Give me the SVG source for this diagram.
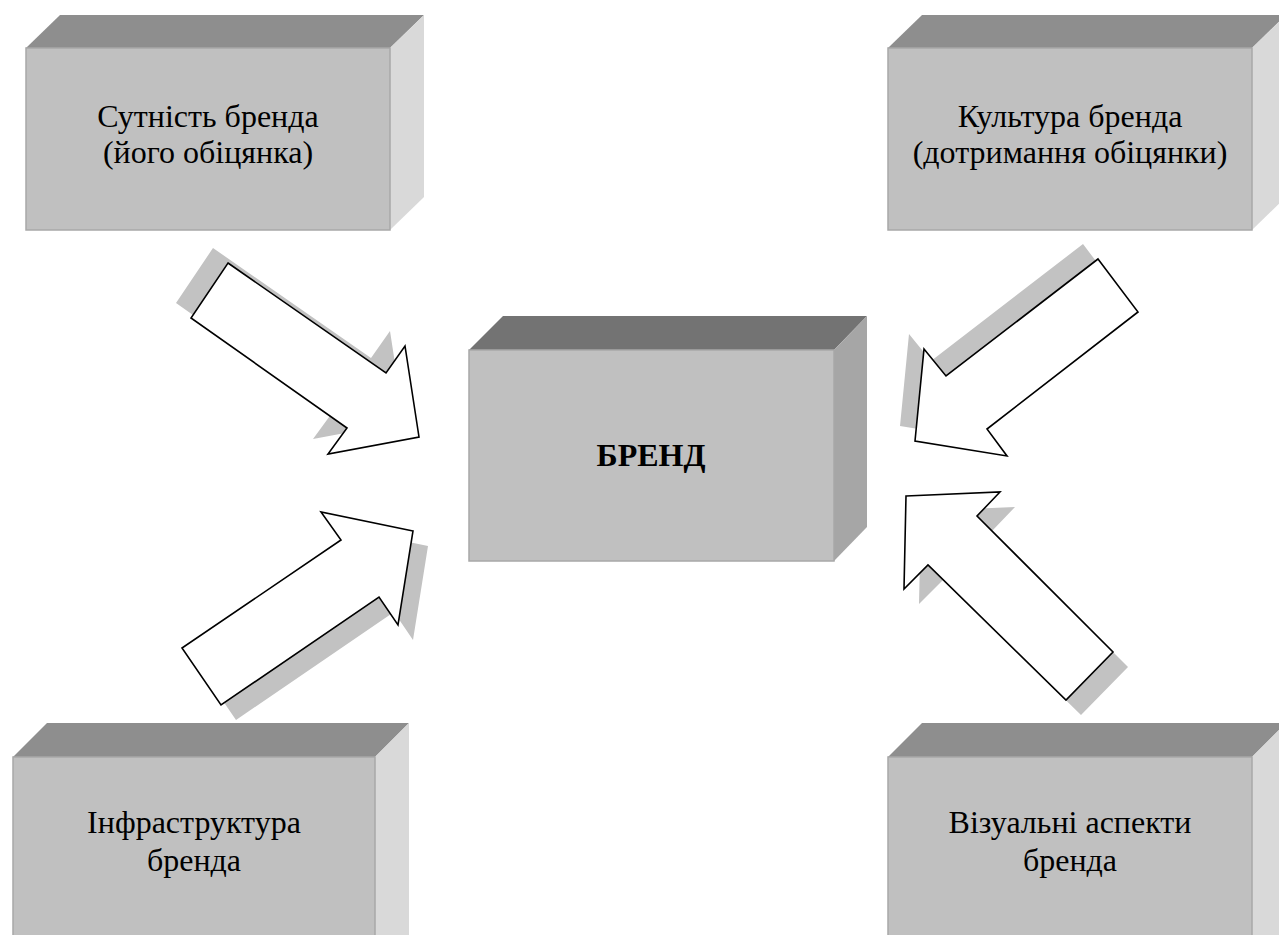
<svg xmlns="http://www.w3.org/2000/svg" width="1279" height="935" viewBox="0 0 1279 935">
<style>
.front{fill:#c0c0c0;stroke:#a8a8a8;stroke-width:1.5}
.top{fill:#8e8e8e}
.side{fill:#d9d9d9}
.ctop{fill:#737373}
.cside{fill:#a6a6a6}
.lbl{font-family:'Liberation Serif','DejaVu Serif',serif;font-size:32px;fill:#000;text-anchor:middle}
.bold{font-weight:bold}
.arrow{fill:#fff;stroke:#000;stroke-width:1.6;stroke-linejoin:miter}
.shadow{fill:#c2c2c2}
</style>
<rect width="1279" height="935" fill="#fff"/>
<g id="connectors">
  <g id="arrow-tl">
    <polygon class="shadow" transform="translate(-15,-15)" points="228,263 386,373 405,346 419,437 328,454 347,428 191,318"/>
    <polygon class="arrow" points="228,263 386,373 405,346 419,437 328,454 347,428 191,318"/>
  </g>
  <g id="arrow-tr">
    <polygon class="shadow" transform="translate(-15,-15)" points="1098,259 1138,312 987,429 1007,456 915,441 924,349 946,376"/>
    <polygon class="arrow" points="1098,259 1138,312 987,429 1007,456 915,441 924,349 946,376"/>
  </g>
  <g id="arrow-bl">
    <polygon class="shadow" transform="translate(15,15)" points="413,531 321,512 341,540 182,648 221,705 379,597 398,625"/>
    <polygon class="arrow" points="413,531 321,512 341,540 182,648 221,705 379,597 398,625"/>
  </g>
  <g id="arrow-br">
    <polygon class="shadow" transform="translate(15,15)" points="906,496 1000,492 977,516 1113,652 1066,700 928,565 904,589"/>
    <polygon class="arrow" points="906,496 1000,492 977,516 1113,652 1066,700 928,565 904,589"/>
  </g>
</g>
<g id="node-essence">
  <polygon class="top" points="26,48 60,15 424,15 390,48"/>
  <polygon class="side" points="390,48 424,15 424,197 390,230"/>
  <rect class="front" x="26" y="48" width="364" height="182"/>
  <text class="lbl" x="208" y="127" font-family="Liberation Serif, serif">Сутність бренда</text>
  <text class="lbl" x="208" y="163" font-family="Liberation Serif, serif">(його обіцянка)</text>
</g>
<g id="node-culture">
  <polygon class="top" points="888,48 922,15 1286,15 1252,48"/>
  <polygon class="side" points="1252,48 1286,15 1286,197 1252,230"/>
  <rect class="front" x="888" y="48" width="364" height="182"/>
  <text class="lbl" x="1070" y="127" font-family="Liberation Serif, serif">Культура бренда</text>
  <text class="lbl" x="1070" y="163" font-family="Liberation Serif, serif">(дотримання обіцянки)</text>
</g>
<g id="node-brand">
  <polygon class="ctop" points="469,350 503,316 867,316 834,350"/>
  <polygon class="cside" points="834,350 867,316 867,527 834,561"/>
  <rect class="front" x="469" y="350" width="365" height="211"/>
  <text class="lbl bold" x="651" y="466" font-family="Liberation Serif, serif">БРЕНД</text>
</g>
<g id="node-infra">
  <polygon class="top" points="13,757 47,723 409,723 375,757"/>
  <polygon class="side" points="375,757 409,723 409,935 375,935"/>
  <rect class="front" x="13" y="757" width="362" height="190"/>
  <text class="lbl" x="194" y="833" font-family="Liberation Serif, serif">Інфраструктура</text>
  <text class="lbl" x="194" y="871" font-family="Liberation Serif, serif">бренда</text>
</g>
<g id="node-visual">
  <polygon class="top" points="888,757 922,723 1286,723 1252,757"/>
  <polygon class="side" points="1252,757 1286,723 1286,935 1252,935"/>
  <rect class="front" x="888" y="757" width="364" height="190"/>
  <text class="lbl" x="1070" y="833" font-family="Liberation Serif, serif">Візуальні аспекти</text>
  <text class="lbl" x="1070" y="871" font-family="Liberation Serif, serif">бренда</text>
</g>
</svg>
